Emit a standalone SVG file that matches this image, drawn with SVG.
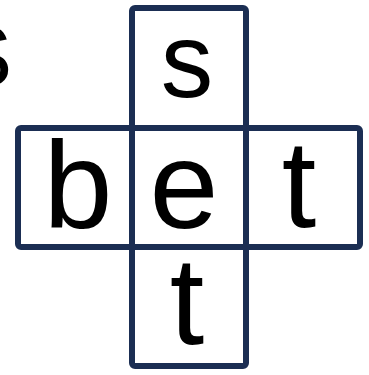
<svg xmlns="http://www.w3.org/2000/svg" width="369" height="375" viewBox="0 0 369 375">
  <style>
    .frame { fill: none; stroke: #1b2e53; stroke-width: 6; stroke-linejoin: round; }
    .lt { font-family: "Liberation Sans", Arial, sans-serif; fill: #000; text-anchor: middle; }
    .big { font-size: 124px; }
    .small { font-size: 105px; }
  </style>
  <rect width="369" height="375" fill="#ffffff"/>
  <text class="lt" x="12" y="86" style="font-size:86px;text-anchor:end">S</text>
  <g id="grid">
    <rect class="frame" x="132" y="8" width="114" height="358" rx="3"/>
    <rect class="frame" x="18" y="128" width="342" height="119" rx="3"/>
  </g>
  <g id="cell-s"><text class="lt small" x="187" y="97">s</text></g>
  <g id="cell-b"><text class="lt big" x="78" y="228">b</text></g>
  <g id="cell-e"><text class="lt big" x="184" y="228">e</text></g>
  <g id="cell-t-right"><text class="lt big" x="299" y="227">t</text></g>
  <g id="cell-t-bottom"><text class="lt big" x="187" y="344">t</text></g>
  <g id="connectors"></g>
</svg>
